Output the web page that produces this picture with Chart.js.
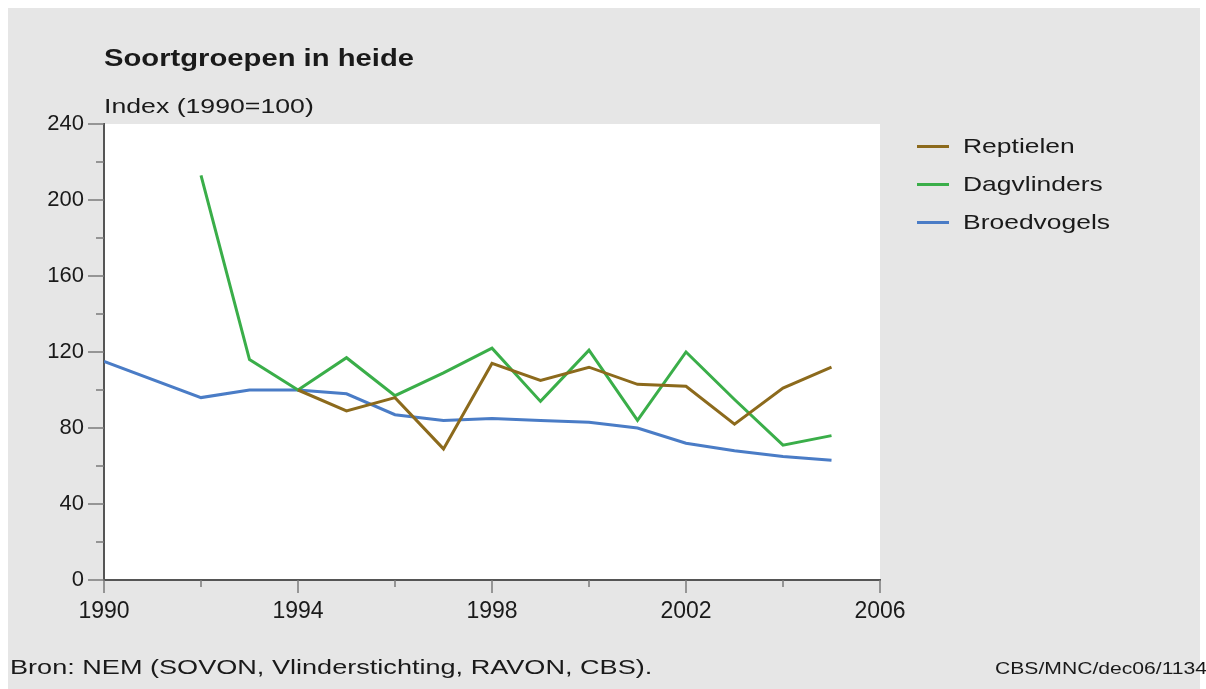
<!DOCTYPE html>
<html>
<head>
<meta charset="utf-8">
<script src="https://cdn.jsdelivr.net/npm/chart.js@4"></script>
<style>
  html, body { margin: 0; padding: 0; background: #fff; }
  body { width: 1206px; height: 689px; position: relative; overflow: hidden; font-family: "Liberation Sans", Arial, sans-serif; color: #1a1a1a; }
  #bg { position: absolute; left: 8px; top: 8px; width: 1192px; height: 681px; background: #e6e6e6; }
  #wrap { position: absolute; left: 0; top: 0; width: 1206px; height: 689px; }
  .txt { position: absolute; white-space: nowrap; transform-origin: 0 0; }
  #title { left: 104px; top: 45px; font-size: 23px; font-weight: bold; transform: scaleX(1.27); }
  #sub { left: 104px; top: 94px; font-size: 21px; transform: scaleX(1.27); }
  #bron { left: 10px; top: 655px; font-size: 21px; transform: scaleX(1.29); }
  #code { left: 995px; top: 660px; font-size: 16px; transform: scaleX(1.32); }
  #legend { position: absolute; left: 917px; top: 127px; }
  .li { height: 38px; display: flex; align-items: center; font-size: 21px; }
  .sw { width: 32px; height: 3px; margin-right: 14px; }
  .lt { display: inline-block; transform: scaleX(1.26); transform-origin: 0 50%; }
</style>
</head>
<body>
<div id="bg"></div>
<div id="wrap"><canvas id="chart" width="1206" height="689"></canvas></div>
<div class="txt" id="title">Soortgroepen in heide</div>
<div class="txt" id="sub">Index (1990=100)</div>
<div id="legend"></div>
<div class="txt" id="bron">Bron: NEM (SOVON, Vlinderstichting, RAVON, CBS).</div>
<div class="txt" id="code">CBS/MNC/dec06/1134</div>
<script>
// years 1990..2005
const years = [1990, 1991, 1992, 1993, 1994, 1995, 1996, 1997, 1998, 1999, 2000, 2001, 2002, 2003, 2004, 2005];
const reptielen   = [null, null, null, null, 100, 89, 96, 69, 114, 105, 112, 103, 102, 82, 101, 112];
const dagvlinders = [null, null, 213, 116, 100, 117, 97, 109, 122, 94, 121, 84, 120, 95, 71, 76];
const broedvogels = [115, null, 96, 100, 100, 98, 87, 84, 85, 84, 83, 80, 72, 68, 65, 63];

const seriesNames = ['Reptielen', 'Dagvlinders', 'Broedvogels'];
const seriesColors = ['#8c6a1c', '#3aae49', '#4a7cc6'];

function toPoints(arr) {
    return years.map((y, i) => ({ x: y, y: arr[i] }));
}

const leg = document.getElementById('legend');
seriesNames.forEach((n, i) => {
    const row = document.createElement('div');
    row.className = 'li';
    row.innerHTML = '<span class="sw" style="background:' + seriesColors[i] + '"></span><span class="lt">' + n + '</span>';
    leg.appendChild(row);
});

const plotBg = {
    id: 'plotBg',
    beforeDraw(chart) {
        const a = chart.chartArea;
        const ctx = chart.ctx;
        ctx.save();
        ctx.fillStyle = '#ffffff';
        ctx.fillRect(a.left, a.top, a.right - a.left, a.bottom - a.top);
        ctx.restore();
    }
};

// major ticks (with label) longer than minor ticks
const tickMarks = {
    id: 'tickMarks',
    afterDraw(chart) {
        const ctx = chart.ctx;
        const xs = chart.scales.x, ys = chart.scales.y;
        ctx.save();
        ctx.strokeStyle = '#7a7a7a';
        ctx.lineWidth = 1.5;
        xs.ticks.forEach(t => {
            const px = xs.getPixelForValue(t.value);
            const len = (t.value - 1990) % 4 === 0 ? 13 : 7;
            ctx.beginPath();
            ctx.moveTo(px, xs.top);
            ctx.lineTo(px, xs.top + len);
            ctx.stroke();
        });
        ys.ticks.forEach(t => {
            const py = ys.getPixelForValue(t.value);
            const len = t.value % 40 === 0 ? 16 : 8;
            ctx.beginPath();
            ctx.moveTo(ys.right, py);
            ctx.lineTo(ys.right - len, py);
            ctx.stroke();
        });
        ctx.restore();
    }
};

const ctx = document.getElementById('chart').getContext('2d');
new Chart(ctx, {
    type: 'line',
    data: {
        datasets: [
            { label: 'Reptielen', data: toPoints(reptielen), borderColor: seriesColors[0] },
            { label: 'Dagvlinders', data: toPoints(dagvlinders), borderColor: seriesColors[1] },
            { label: 'Broedvogels', data: toPoints(broedvogels), borderColor: seriesColors[2], spanGaps: true }
        ]
    },
    options: {
        responsive: false,
        animation: false,
        layout: { padding: { top: 124, right: 326, left: 0, bottom: 0 } },
        elements: {
            line: { borderWidth: 3, tension: 0 },
            point: { radius: 0 }
        },
        plugins: { legend: { display: false }, tooltip: { enabled: false } },
        scales: {
            x: {
                type: 'linear',
                min: 1990,
                max: 2006,
                afterFit: (s) => { s.height = 109; },
                border: { color: '#555', width: 2 },
                grid: { drawOnChartArea: false, drawTicks: false },
                ticks: {
                    stepSize: 2,
                    autoSkip: false,
                    maxRotation: 0,
                    padding: 18,
                    color: '#1a1a1a',
                    font: { family: 'Liberation Sans', size: 23 },
                    callback: (v) => ((v - 1990) % 4 === 0 ? String(v) : '')
                }
            },
            y: {
                min: 0,
                max: 240,
                afterFit: (s) => { s.width = 104; },
                border: { color: '#555', width: 2 },
                grid: { drawOnChartArea: false, drawTicks: false },
                ticks: {
                    stepSize: 20,
                    autoSkip: false,
                    padding: 20,
                    color: '#1a1a1a',
                    font: { family: 'Liberation Sans', size: 22 },
                    callback: (v) => (v % 40 === 0 ? String(v) : '')
                }
            }
        }
    },
    plugins: [plotBg, tickMarks]
});
</script>
</body>
</html>
